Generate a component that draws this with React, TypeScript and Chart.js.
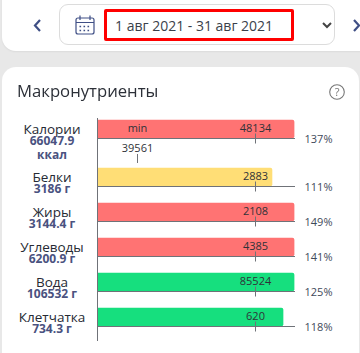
import React, { useEffect, useRef } from "react";
import { Chart, registerables } from "chart.js";

Chart.register(...registerables);

const names = ["Калории", "Белки", "Жиры", "Углеводы", "Вода", "Клетчатка"];
const totals = [["66047.9", "ккал"], ["3186 г"], ["3144.4 г"], ["6200.9 г"], ["106532 г"], ["734.3 г"]];
const norms = ["48134", "2883", "2108", "4385", "85524", "620"];
const percents = [137, 111, 149, 141, 125, 118];
const rowPositions = [0, 1.371, 2.371, 3.371, 4.371, 5.371];
const barColors = ["#ff7373", "#ffde76", "#ff7373", "#ff7373", "#16df7e", "#16df7e"];
const minPercent = 25.4;
const minLabel = "39561";
const NORM = 100;

const FONT = '"Open Sans", sans-serif';
const AXIS = "#6f7278";

const overlay = {
  id: "overlay",
  afterDatasetsDraw(chart: any) {
    const { ctx, scales, chartArea } = chart;
    const x = scales.x;
    const y = scales.y;
    const line = (x1: number, y1: number, x2: number, y2: number) => {
      ctx.beginPath();
      ctx.moveTo(x1, y1);
      ctx.lineTo(x2, y2);
      ctx.stroke();
    };
    const xNorm = Math.round(x.getPixelForValue(NORM)) + 0.5;
    ctx.save();
    ctx.strokeStyle = AXIS;
    ctx.lineWidth = 1;
    line(chartArea.left + 0.5, chartArea.top, chartArea.left + 0.5, chartArea.bottom);
    ctx.textBaseline = "middle";
    names.forEach((name, i) => {
      const cy = y.getPixelForValue(rowPositions[i]);
      const base = Math.round(cy + 9) + 0.5;
      ctx.strokeStyle = AXIS;
      line(chartArea.left, base, chartArea.right, base);
      line(xNorm, base - 5, xNorm, base + 5);

      ctx.textAlign = "center";
      ctx.fillStyle = "#2f3238";
      ctx.font = `11px ${FONT}`;
      ctx.fillText(norms[i], xNorm, cy);
      ctx.fillStyle = "#3f4a5a";
      ctx.font = `11px ${FONT}`;
      ctx.fillText(`${percents[i]}%`, 318.5, cy + 10.5);

      ctx.fillStyle = "#262a33";
      ctx.font = `13.5px ${FONT}`;
      ctx.fillText(name, 52, cy + 1);
      ctx.fillStyle = "#4a5280";
      ctx.font = `bold 12px ${FONT}`;
      totals[i].forEach((t, j) => ctx.fillText(t, 52, cy + 13 + j * 14));
    });
    const cy0 = y.getPixelForValue(rowPositions[0]);
    const xMin = Math.round(x.getPixelForValue(minPercent)) + 0.5;
    ctx.fillStyle = "#2f3238";
    ctx.font = `11px ${FONT}`;
    ctx.textAlign = "center";
    ctx.fillText("min", xMin, cy0);
    ctx.fillText(minLabel, xMin, cy0 + 20);
    ctx.strokeStyle = AXIS;
    line(xMin, cy0 + 25, xMin, cy0 + 34);
    ctx.restore();
  },
};

function ChartCanvas() {
  const ref = useRef<HTMLCanvasElement>(null);
  useEffect(() => {
    const canvas = ref.current!;
    canvas.getContext("2d", { alpha: false });
    const chart = new Chart(canvas, {
      type: "bar",
      data: {
        datasets: [
          {
            data: percents.map((p, i) => ({ x: Math.min(p, 125), y: rowPositions[i] })),
            backgroundColor: barColors,
            barThickness: 18,
            borderRadius: { topLeft: 0, bottomLeft: 0, topRight: 2, bottomRight: 2 },
            borderSkipped: false,
          },
        ],
      },
      options: {
        indexAxis: "y",
        animation: false,
        responsive: false,
        layout: { padding: { left: 97, right: 65, top: 51, bottom: 12 } },
        plugins: { legend: { display: false }, tooltip: { enabled: false } },
        scales: {
          x: { type: "linear", min: 0, max: 125.6, display: false },
          y: { type: "linear", reverse: true, min: -0.314, max: 6.057, display: false, offset: false },
        },
      },
      plugins: [
        { id: "bg", beforeDraw(c: any) { c.ctx.save(); c.ctx.fillStyle = "#fff"; c.ctx.fillRect(0, 0, c.width, c.height); c.ctx.restore(); } },
        overlay,
      ],
    } as any);
    return () => chart.destroy();
  }, []);
  return <canvas ref={ref} width={360} height={286} style={{ position: "absolute", left: 0, top: 67, display: "block" }} />;
}

export default function App() {
  useEffect(() => {
    document.body.style.margin = "0";
    document.body.style.overflow = "hidden";
    document.body.style.background = "#e8e8e8";
  }, []);
  return (
    <div style={{ position: "relative", width: 360, height: 353, overflow: "hidden", background: "#e8e8e8", fontFamily: FONT }}>
      <div style={{ position: "absolute", left: 2, top: -20, width: 380, height: 71, background: "#fff", borderRadius: 14, boxShadow: "0 1px 2px rgba(0,0,0,.06)" }} />
      <svg width="360" height="52" style={{ position: "absolute", left: 0, top: 0 }} fill="none">
        <path d="M40 20 L35 25.5 L40 31" stroke="#3f4f85" strokeWidth="2.2" />
        <path d="M354 20 L359 25.5 L354 31" stroke="#3f4f85" strokeWidth="2.2" />
        <path d="M323 23 L327 27 L331 23" stroke="#444" strokeWidth="2" />
        <rect x="76" y="18" width="18" height="16" rx="2" stroke="#3f4f85" strokeWidth="1.2" />
        <path d="M76 22.5 H94 M80 15.5 V20 M90 15.5 V20" stroke="#3f4f85" strokeWidth="1.2" />
        <path d="M79.5 26.5 H91 M79.5 30.5 H91" stroke="#3f4f85" strokeWidth="1.4" strokeDasharray="1.6 2.4" />
      </svg>
      <div style={{ position: "absolute", left: 59, top: 4, width: 276, height: 41, boxSizing: "border-box", border: "1px solid #dcdcdc", borderRadius: 9 }} />
      <div style={{ position: "absolute", left: 104, top: 9, width: 190, height: 32, boxSizing: "border-box", border: "3px solid #f00", borderRadius: 2, color: "#3a3f4a", fontSize: 14, lineHeight: "27px", paddingLeft: 8, whiteSpace: "nowrap" }}>
        1 авг 2021 - 31 авг 2021
      </div>
      <div style={{ position: "absolute", left: 0, top: 0, width: 360, height: 353, clipPath: "inset(67px 1px -20px 2px round 14px)" }}>
        <ChartCanvas />
      </div>
      <div style={{ position: "absolute", left: 17, top: 79, fontSize: 16.7, lineHeight: "24px", color: "#2c3038" }}>Макронутриенты</div>
      <svg width="18" height="18" style={{ position: "absolute", left: 328, top: 83 }} fill="none">
        <circle cx="9" cy="9" r="7.3" stroke="#777" strokeWidth="1.1" />
        <text x="9" y="13" textAnchor="middle" fontSize="11" fill="#777" fontFamily={FONT}>?</text>
      </svg>
    </div>
  );
}
